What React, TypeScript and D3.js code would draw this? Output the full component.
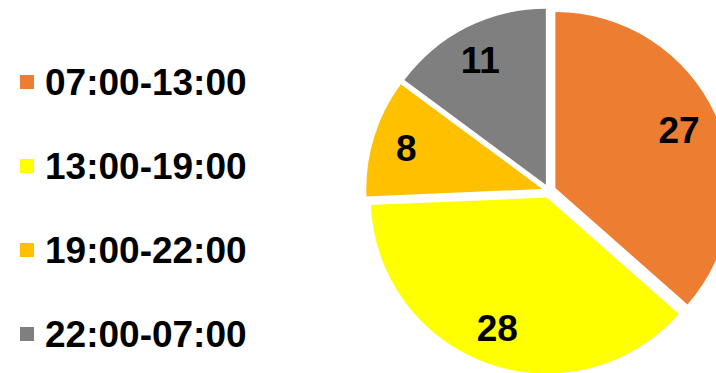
import React from "react";
import * as d3 from "d3";

const categories = ["07:00-13:00", "13:00-19:00", "19:00-22:00", "22:00-07:00"];
const values = [27, 28, 8, 11];
const colors = ["#ED7D31", "#FFFF00", "#FFC000", "#7F7F7F"];

const W = 716;
const H = 373;

export default function App() {
  const cx = 549;
  const cy = 191;
  const r = 176;
  const explode = 7;
  const labelR = 139;

  const pie = d3.pie<number>().sort(null).value((d) => d)(values);
  const arc = d3.arc<d3.PieArcDatum<number>>().innerRadius(0).outerRadius(r);
  const labelArc = d3
    .arc<d3.PieArcDatum<number>>()
    .innerRadius(labelR)
    .outerRadius(labelR);

  const legendY = d3
    .scalePoint<string>()
    .domain(categories)
    .range([82, 334]);

  const font = "Arial, 'Liberation Sans', Helvetica, sans-serif";

  return (
    <svg
      width={W}
      height={H}
      style={{ position: "absolute", left: 0, top: 0, background: "#fff" }}
    >
      <g transform={`translate(${cx},${cy})`}>
        {pie.map((p, i) => {
          const mid = (p.startAngle + p.endAngle) / 2;
          const dx = Math.sin(mid) * explode;
          const dy = -Math.cos(mid) * explode;
          const [lx, ly] = labelArc.centroid(p);
          return (
            <g key={i} transform={`translate(${dx},${dy})`}>
              <path d={arc(p) || ""} fill={colors[i]} />
              <text
                x={lx - 3}
                y={ly}
                textAnchor="middle"
                dominantBaseline="central"
                fontFamily={font}
                fontWeight="bold"
                fontSize={37}
                fill="#000"
              >
                {values[i]}
              </text>
            </g>
          );
        })}
      </g>
      {categories.map((c, i) => {
        const y = legendY(c) as number;
        return (
          <g key={c}>
            <rect x={20} y={y - 7} width={14} height={14} fill={colors[i]} />
            <text
              x={45}
              y={y}
              dominantBaseline="central"
              fontFamily={font}
              fontWeight="bold"
              fontSize={37}
              fill="#000"
            >
              {c}
            </text>
          </g>
        );
      })}
    </svg>
  );
}
